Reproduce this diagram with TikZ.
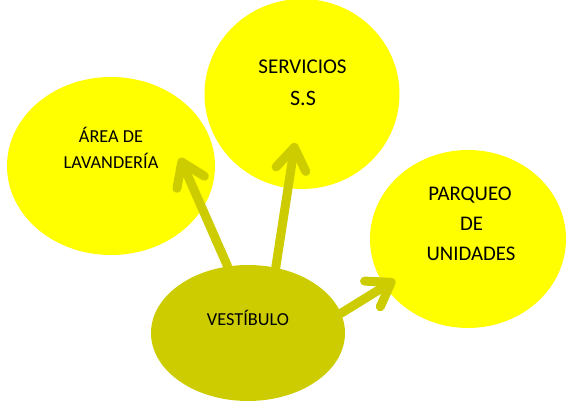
\documentclass[tikz,border=0pt]{standalone}
\usepackage{fontspec}
\setmainfont{Carlito}
\usetikzlibrary{shapes.geometric,arrows.meta}
\definecolor{brightyellow}{HTML}{FFFF00}
\definecolor{olive}{HTML}{CCCC00}
\tikzset{
  bubble/.style={ellipse, fill=brightyellow, draw=none, inner sep=0pt},
  hub/.style={ellipse, fill=olive, draw=none, inner sep=0pt},
  txt/.style={anchor=base, text=black, inner sep=0pt},
  arr/.style={draw=olive, line width=9pt, line cap=round,
    -{Straight Barb[round, length=22pt, width=30pt]}}
}
\begin{document}
\begin{tikzpicture}[x=1pt,y=-1pt]
\useasboundingbox (0,0) rectangle (566,403);
\node[bubble, minimum width=208pt, minimum height=178pt] (area) at (111,166) {};
\node[bubble, minimum width=195pt, minimum height=190pt] (serv) at (302,94) {};
\node[bubble, minimum width=196pt, minimum height=178pt] (parq) at (468,239) {};
\node[hub, minimum width=194pt, minimum height=136pt] (vest) at (248,333) {};
\coordinate (t1) at (180,158);
\coordinate (t2) at (295,143);
\coordinate (t3) at (395,280);
\draw[arr] (vest.107) -- (t1);
\draw[arr] (vest.67) -- (t2);
\draw[arr] (vest.12) -- (t3);
\node[txt, font=\fontsize{18.3}{22}\selectfont] (tarea1) at (111,142.5) {ÁREA DE};
\node[txt, font=\fontsize{18.3}{22}\selectfont] (tarea2) at (111,168.5) {LAVANDERÍA};
\node[txt, font=\fontsize{21}{25}\selectfont] (tserv1) at (302.5,74) {SERVICIOS};
\node[txt, font=\fontsize{22}{26}\selectfont] (tserv2) at (303,106) {S.S};
\node[txt, font=\fontsize{20.8}{25}\selectfont] (tparq1) at (470,201) {PARQUEO};
\node[txt, font=\fontsize{20.8}{25}\selectfont] (tparq2) at (471.5,231) {DE};
\node[txt, font=\fontsize{20.8}{25}\selectfont] (tparq3) at (471,261) {UNIDADES};
\node[txt, font=\fontsize{18.3}{22}\selectfont] (tvest) at (248,326) {VESTÍBULO};
\end{tikzpicture}
\end{document}
